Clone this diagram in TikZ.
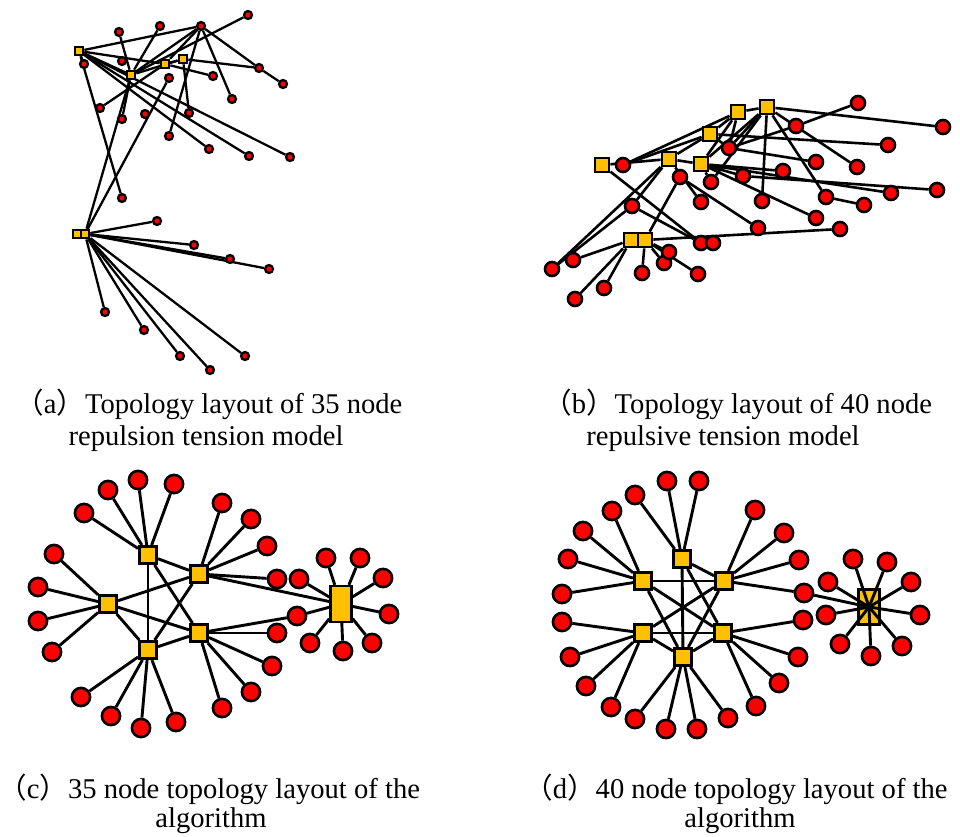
\documentclass[tikz,border=0pt]{standalone}
\usepackage{fontspec}
\setmainfont{Liberation Serif}
\newfontfamily\cjk{Noto Sans CJK SC}
\usetikzlibrary{backgrounds}
\definecolor{gold}{HTML}{FFC000}
\definecolor{nodered}{HTML}{FF0000}
\tikzset{
  rn/.style={circle, fill=nodered, draw=black, inner sep=0pt},
  yn/.style={rectangle, fill=gold, draw=black, inner sep=0pt},
  ca/.style={rn, minimum size=7.9pt, line width=2.3pt},
  sa/.style={yn, minimum size=8.4pt, line width=2.3pt},
  cb/.style={rn, minimum size=14pt, line width=2.6pt},
  sb/.style={yn, minimum size=14.2pt, line width=2.6pt},
  cc/.style={rn, minimum size=18.2pt, line width=2.6pt},
  sc/.style={yn, minimum size=17.4pt, line width=2.6pt},
  ea/.style={line width=2.3pt},
  eb/.style={line width=2.6pt},
  ec/.style={line width=2.9pt},
  captext/.style={inner sep=0pt, font=\fontsize{28.6}{32}\selectfont}
}
\begin{document}
\begin{tikzpicture}[x=1pt, y=-1pt]
\useasboundingbox (0,0) rectangle (960,836);

% ---------- (a) repulsion tension model, 35 nodes ----------
\node[sa] (a1) at (79,51) {};
\node[sa] (a2) at (131,75) {};
\node[sa] (a3) at (165,64) {};
\node[sa] (a4) at (183,59) {};
\node[sa] (a5) at (77,234) {};
\node[sa] (a6) at (85,234) {};
\node[ca] (c1) at (84,64) {};
\node[ca] (c2) at (119,32) {};
\node[ca] (c3) at (160,26) {};
\node[ca] (c4) at (201,26) {};
\node[ca] (c5) at (248,15) {};
\node[ca] (c6) at (122,61) {};
\node[ca] (c7) at (213,76) {};
\node[ca] (c8) at (259,68) {};
\node[ca] (c9) at (283,84) {};
\node[ca] (c10) at (232,99) {};
\node[ca] (c11) at (169,78) {};
\node[ca] (c12) at (100,108) {};
\node[ca] (c13) at (122,119) {};
\node[ca] (c14) at (145,114) {};
\node[ca] (c15) at (189,113) {};
\node[ca] (c16) at (169,136) {};
\node[ca] (c17) at (209,149) {};
\node[ca] (c18) at (249,156) {};
\node[ca] (c19) at (290,157) {};
\node[ca] (c20) at (122,198) {};
\node[ca] (c21) at (157,221) {};
\node[ca] (c22) at (194,245) {};
\node[ca] (c23) at (230,259) {};
\node[ca] (c24) at (269,269) {};
\node[ca] (c25) at (105,312) {};
\node[ca] (c26) at (144,330) {};
\node[ca] (c27) at (180,356) {};
\node[ca] (c28) at (210,370) {};
\node[ca] (c29) at (245,356) {};

% ---------- (b) repulsive tension model, 40 nodes ----------
\node[sb] (b1) at (602,165) {};
\node[sb] (b2) at (669,159) {};
\node[sb] (b3) at (701,164) {};
\node[sb] (b4) at (710,134) {};
\node[sb] (b5) at (738,112) {};
\node[sb] (b6) at (767,107) {};
\node[sb] (b7) at (631,240) {};
\node[sb] (b8) at (645,240) {};
\node[cb] (d1) at (623,165) {};
\node[cb] (d2) at (729,148) {};
\node[cb] (d3) at (680,177) {};
\node[cb] (d4) at (711,182) {};
\node[cb] (d5) at (743,176) {};
\node[cb] (d6) at (783,171) {};
\node[cb] (d7) at (632,206) {};
\node[cb] (d8) at (701,202) {};
\node[cb] (d9) at (762,201) {};
\node[cb] (d10) at (758,228) {};
\node[cb] (d11) at (796,126) {};
\node[cb] (d12) at (858,103) {};
\node[cb] (d13) at (943,127) {};
\node[cb] (d14) at (888,145) {};
\node[cb] (d15) at (816,162) {};
\node[cb] (d16) at (857,167) {};
\node[cb] (d17) at (937,190) {};
\node[cb] (d18) at (891,193) {};
\node[cb] (d19) at (826,197) {};
\node[cb] (d20) at (864,205) {};
\node[cb] (d21) at (816,218) {};
\node[cb] (d22) at (840,229) {};
\node[cb] (d23) at (573,260) {};
\node[cb] (d24) at (552,269) {};
\node[cb] (d25) at (604,288) {};
\node[cb] (d26) at (575,299) {};
\node[cb] (d27) at (642,273) {};
\node[cb] (d28) at (664,263) {};
\node[cb] (d29) at (698,274) {};
\node[cb] (d30) at (669,252) {};
\node[cb] (d31) at (701,243) {};
\node[cb] (d32) at (713,243) {};

% ---------- (c) algorithm layout, 35 nodes ----------
\node[sc] (p1) at (148,555) {};
\node[sc] (p2) at (199,574) {};
\node[sc] (p3) at (108,604) {};
\node[sc] (p4) at (199,633) {};
\node[sc] (p5) at (148,650) {};
\node[yn, minimum width=20.7pt, minimum height=35.7pt, line width=2.6pt] (pr) at (341,604) {};
\node[cc] (e1) at (138,480) {};
\node[cc] (e2) at (108,490) {};
\node[cc] (e3) at (174,484) {};
\node[cc] (e4) at (84,513) {};
\node[cc] (e5) at (222,503) {};
\node[cc] (e6) at (251,519) {};
\node[cc] (e7) at (267,546) {};
\node[cc] (e8) at (277,579) {};
\node[cc] (e9) at (54,554) {};
\node[cc] (e10) at (38,587) {};
\node[cc] (e11) at (38,621) {};
\node[cc] (e12) at (52,652) {};
\node[cc] (e13) at (277,633) {};
\node[cc] (e14) at (272,666) {};
\node[cc] (e15) at (251,692) {};
\node[cc] (e16) at (222,708) {};
\node[cc] (e17) at (81,697) {};
\node[cc] (e18) at (111,716) {};
\node[cc] (e19) at (141,728) {};
\node[cc] (e20) at (176,722) {};
\node[cc] (e21) at (326,558) {};
\node[cc] (e22) at (360,558) {};
\node[cc] (e23) at (383,578) {};
\node[cc] (e24) at (389,614) {};
\node[cc] (e25) at (372,643) {};
\node[cc] (e26) at (343,651) {};
\node[cc] (e27) at (310,643) {};
\node[cc] (e28) at (297,616) {};
\node[cc] (e29) at (299,579) {};

% ---------- (d) algorithm layout, 40 nodes ----------
\node[sc] (q1) at (682,559) {};
\node[sc] (q2) at (643,581) {};
\node[sc] (q3) at (724,581) {};
\node[sc] (q4) at (643,633) {};
\node[sc] (q5) at (723,633) {};
\node[sc] (q6) at (683,657) {};
\node[yn, minimum width=20.7pt, minimum height=35pt, line width=2.6pt] (qr) at (869,607) {};
\node[cc] (f1) at (667,481) {};
\node[cc] (f2) at (699,481) {};
\node[cc] (f3) at (635,495) {};
\node[cc] (f4) at (612,511) {};
\node[cc] (f5) at (583,531) {};
\node[cc] (f6) at (568,559) {};
\node[cc] (f7) at (562,594) {};
\node[cc] (f8) at (755,510) {};
\node[cc] (f9) at (784,533) {};
\node[cc] (f10) at (799,560) {};
\node[cc] (f11) at (804,593) {};
\node[cc] (f12) at (562,622) {};
\node[cc] (f13) at (570,657) {};
\node[cc] (f14) at (586,686) {};
\node[cc] (f15) at (611,707) {};
\node[cc] (f16) at (803,620) {};
\node[cc] (f17) at (798,657) {};
\node[cc] (f18) at (779,683) {};
\node[cc] (f19) at (756,706) {};
\node[cc] (f20) at (635,719) {};
\node[cc] (f21) at (666,729) {};
\node[cc] (f22) at (697,729) {};
\node[cc] (f23) at (728,718) {};
\node[cc] (f24) at (853,559) {};
\node[cc] (f25) at (887,562) {};
\node[cc] (f26) at (828,582) {};
\node[cc] (f27) at (911,582) {};
\node[cc] (f28) at (826,615) {};
\node[cc] (f29) at (920,615) {};
\node[cc] (f30) at (840,644) {};
\node[cc] (f31) at (871,656) {};
\node[cc] (f32) at (902,646) {};

% spokes of the right-hand hub run over its box
\foreach \n in {f24,f25,f26,f27,f28,f29,f30,f31,f32,f11}
  \draw[ec] (\n) -- (qr.center);

\begin{scope}[on background layer]
  \fill[white] (0,0) rectangle (960,836);
  % (a) links
  \foreach \u/\v in {a1/c4, a1/a2, a1/a3, a1/c1, a1/c20, a1/c17, a1/c18, a1/c19,
      c2/a2, c3/a2, c4/a2, c4/a3, c5/a2, c4/c8, c8/c9, c4/c10, c4/c16,
      a3/a4, a3/c7, a4/c8, a4/c15, a3/c12, a2/c13, a2/a4,
      a6/a2, a6/c11, a5/a6,
      a6/c21, a6/c22, a6/c23, a6/c24, a6/c25, a6/c26, a6/c27, a6/c28, a6/c29}
    \draw[ea] (\u) -- (\v);
  % (b) links
  \foreach \u/\v in {b1/b2, b1/d31, d1/b4, d1/b5, b2/d24, b2/b3, b2/b4, b3/b5, b3/b6,
      d3/b8, d3/d10, b3/d4, d7/b2, b3/d5, b3/d6, b4/d2, b4/b5, b5/b6, b6/d9, b6/d13,
      d12/d11, d11/d2, b4/d14, d2/d15, b6/d16, b6/d19, d19/d20, d5/d17, b3/d18,
      b3/d21, b8/d22, d7/d24, d7/d31, b7/d23, b7/d26, b7/d25, b8/d27, b8/d28,
      b8/d29, b8/d30, b7/b8, b2/d8, b5/d2, b6/d2, d4/b6}
    \draw[eb] (\u) -- (\v);
  % (c) links
  \foreach \u/\v in {p1/e1, p1/e2, p1/e3, p1/e4, p2/e5, p2/e6, p2/e7, p2/e8,
      p3/e9, p3/e10, p3/e11, p3/e12, p4/e13, p4/e14, p4/e15, p4/e16,
      p5/e17, p5/e18, p5/e19, p5/e20,
      pr/e21, pr/e22, pr/e23, pr/e24, pr/e25, pr/e26, pr/e27, pr/e28, pr/e29,
      p4/e28, p2/pr,
      p1/p2, p1/p5, p1/p4, p2/p3, p2/p5, p3/p4, p3/p5, p4/p5}
    \draw[ec] (\u) -- (\v);
  % (d) links
  \foreach \u/\v in {q1/f1, q1/f2, q1/f3, q2/f4, q2/f5, q2/f6, q2/f7,
      q3/f8, q3/f9, q3/f10, q3/f11, q4/f12, q4/f13, q4/f14, q4/f15,
      q5/f16, q5/f17, q5/f18, q5/f19, q6/f20, q6/f21, q6/f22, q6/f23,
      q1/q3, q1/q6, q1/q5, q2/q3, q2/q6, q2/q5, q3/q4, q3/q6, q4/q5, q4/q6, q5/q6}
    \draw[ec] (\u) -- (\v);
\end{scope}

% ---------- captions ----------
\node[captext, anchor=base west] (capa) at (15,413) {{\cjk （}a{\cjk ）}Topology layout of 35 node};
\node[captext, anchor=base] (capa2) at (206,445) {repulsion tension model};
\node[captext, anchor=base west] (capb) at (543,413) {{\cjk （}b{\cjk ）}Topology layout of 40 node};
\node[captext, anchor=base] (capb2) at (723,445) {repulsive tension model};
\node[captext, anchor=base west] (capc) at (-2,798) {{\cjk （}c{\cjk ）}35 node topology layout of the};
\node[captext, anchor=base] (capc2) at (211,827) {algorithm};
\node[captext, anchor=base west] (capd) at (524,798) {{\cjk （}d{\cjk ）}40 node topology layout of the};
\node[captext, anchor=base] (capd2) at (740,827) {algorithm};
\end{tikzpicture}
\end{document}
